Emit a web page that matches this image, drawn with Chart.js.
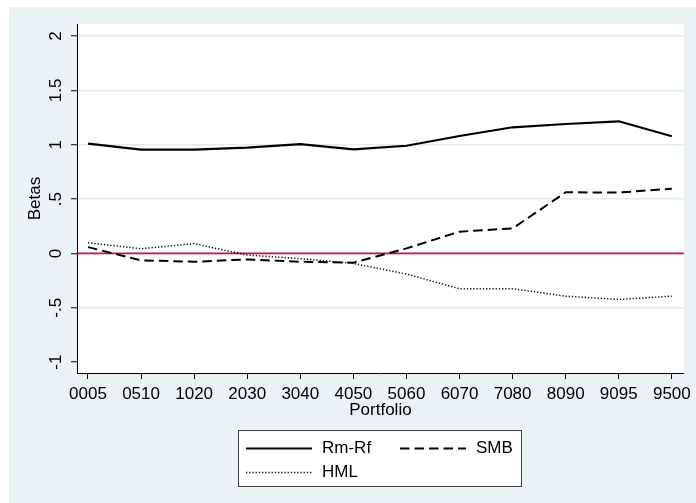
<!DOCTYPE html>
<html>
<head>
<meta charset="utf-8">
<script src="https://cdn.jsdelivr.net/npm/chart.js@4/dist/chart.umd.min.js"></script>
<style>
html,body{margin:0;padding:0;background:#fff;}
canvas{display:block;}
</style>
</head>
<body>
<canvas id="c" width="696" height="503"></canvas>
<script>
// ---- data ----
const categories = ['0005','0510','1020','2030','3040','4050','5060','6070','7080','8090','9095','9500'];
const rmRf = [1.01, 0.955, 0.955, 0.973, 1.005, 0.957, 0.99, 1.08, 1.16, 1.19, 1.215, 1.077];
const smb  = [0.058, -0.064, -0.077, -0.055, -0.077, -0.085, 0.046, 0.20, 0.23, 0.562, 0.56, 0.595];
const hml  = [0.098, 0.043, 0.089, -0.015, -0.048, -0.092, -0.19, -0.325, -0.325, -0.393, -0.424, -0.393];
const yTickValues = [-1, -0.5, 0, 0.5, 1, 1.5, 2];
const refLineValue = 0;
const seriesNames = ['Rm-Rf', 'SMB', 'HML'];

const FONT = '"Liberation Sans", Arial, sans-serif';
const BG = '#eaf2f3';
const GRID = '#e3ebee';

function toPoints(arr){ return arr.map((v,i)=>({x:i, y:v})); }
function fmtStata(v){
  let s = String(v);
  s = s.replace(/^0\./,'.').replace(/^-0\./,'-.');
  return s;
}

const bgPlugin = {
  id:'bg',
  beforeDraw(chart){
    const ctx = chart.ctx, a = chart.chartArea;
    ctx.save();
    ctx.fillStyle = '#fff';
    ctx.fillRect(0,0,chart.width,chart.height);
    ctx.fillStyle = BG;
    ctx.fillRect(9,7,chart.width-9,chart.height-7);
    ctx.fillStyle = '#fff';
    ctx.fillRect(a.left, a.top, a.right-a.left, a.bottom-a.top);
    ctx.restore();
  }
};

const refLinePlugin = {
  id:'refLine',
  beforeDatasetsDraw(chart){
    const ctx = chart.ctx, a = chart.chartArea;
    const y = chart.scales.y.getPixelForValue(refLineValue);
    ctx.save();
    ctx.strokeStyle = '#c8143c';
    ctx.lineWidth = 1.6;
    ctx.beginPath();
    ctx.moveTo(a.left, y);
    ctx.lineTo(a.right, y);
    ctx.stroke();
    ctx.restore();
  }
};

const legendPlugin = {
  id:'customLegend',
  afterDraw(chart){
    const ctx = chart.ctx;
    ctx.save();
    ctx.fillStyle = '#fff';
    ctx.fillRect(238.5,430.5,283,56);
    ctx.strokeStyle = '#404040';
    ctx.lineWidth = 1;
    ctx.strokeRect(238.5,430.5,283,56);
    const slots = [{x:246,y:448.5},{x:400,y:448.5},{x:246,y:472.5}];
    chart.data.datasets.forEach((ds,i)=>{
      const s = slots[i];
      ctx.beginPath();
      ctx.setLineDash(ds.borderDash || []);
      ctx.lineWidth = ds.borderWidth;
      ctx.strokeStyle = ds.borderColor;
      ctx.moveTo(s.x, s.y);
      ctx.lineTo(s.x+66, s.y);
      ctx.stroke();
      ctx.setLineDash([]);
      ctx.fillStyle = '#000';
      ctx.font = '17px ' + FONT;
      ctx.textBaseline = 'middle';
      ctx.textAlign = 'left';
      ctx.fillText(ds.label, s.x+76, s.y);
    });
    ctx.restore();
  }
};

new Chart(document.getElementById('c').getContext('2d'), {
  type:'line',
  data:{
    datasets:[
      {label:seriesNames[0], data:toPoints(rmRf), borderColor:'#000', borderWidth:2.2, pointRadius:0, tension:0, fill:false},
      {label:seriesNames[1], data:toPoints(smb), borderColor:'#000', borderWidth:2, borderDash:[9.5,5], pointRadius:0, tension:0, fill:false},
      {label:seriesNames[2], data:toPoints(hml), borderColor:'#111', borderWidth:1.5, borderDash:[1.3,1.9], pointRadius:0, tension:0, fill:false}
    ]
  },
  options:{
    responsive:false,
    animation:false,
    devicePixelRatio:1,
    layout:{padding:{left:9, top:24, right:12, bottom:82}},
    plugins:{legend:{display:false}, tooltip:{enabled:false}},
    scales:{
      x:{
        type:'linear',
        min:-0.207, max:11.226,
        afterBuildTicks(scale){ scale.ticks = categories.map((c,i)=>({value:i})); },
        afterFit(scale){ scale.height = 48; },
        ticks:{
          callback:(v)=>categories[v],
          font:{size:17, family:FONT}, color:'#000',
          padding:5, maxRotation:0, minRotation:0, autoSkip:false
        },
        grid:{drawOnChartArea:false, drawTicks:true, tickLength:6, tickColor:'#000', tickWidth:1},
        border:{display:true, color:'#000', width:1},
        title:{display:true, text:'Portfolio', font:{size:17, family:FONT}, color:'#000', padding:{top:0,bottom:0}}
      },
      y:{
        type:'linear',
        min:-1.1, max:2.11,
        afterBuildTicks(scale){ scale.ticks = yTickValues.map(v=>({value:v})); },
        afterFit(scale){ scale.width = 68; },
        ticks:{
          callback:(v)=>fmtStata(v),
          font:{size:17, family:FONT}, color:'#000',
          minRotation:90, maxRotation:90, crossAlign:'center', padding:3, autoSkip:false
        },
        grid:{
          color:(c)=> (c.tick && c.tick.value === -1) ? 'rgba(0,0,0,0)' : GRID,
          lineWidth:1.5,
          drawTicks:true, tickLength:6, tickColor:'#000', tickWidth:1
        },
        border:{display:true, color:'#000', width:1},
        title:{display:true, text:'Betas', font:{size:17, family:FONT}, color:'#000', padding:{top:15.8,bottom:0}}
      }
    }
  },
  plugins:[bgPlugin, refLinePlugin, legendPlugin]
});
</script>
</body>
</html>
